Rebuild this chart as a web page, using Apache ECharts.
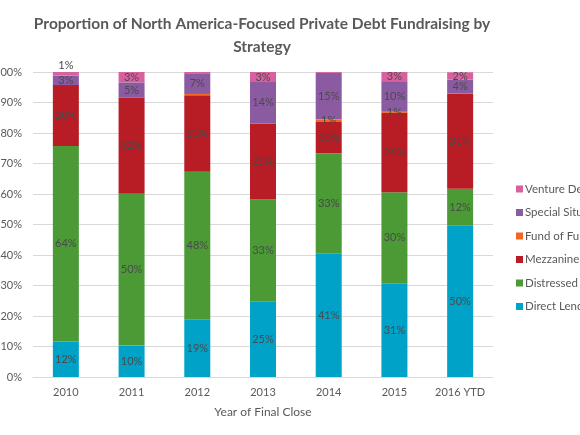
<!DOCTYPE html>
<html>
    <head>
        <meta charset="utf-8">
        <title>Private Debt Fundraising by Strategy</title>
        <script src="https://cdn.jsdelivr.net/npm/echarts@6/dist/echarts.min.js"></script>
        <style>
            html, body { margin: 0; padding: 0; background: #fff; }
            #chart { width: 580px; height: 435px; }
        </style>
    </head>
    <body>
        <div id="chart"></div>
        <script type="text/javascript">
            // categories / ticks
            var years = ["2010", "2011", "2012", "2013", "2014", "2015", "2016 YTD"];
            var yTicks = [0, 10, 20, 30, 40, 50, 60, 70, 80, 90, 100];

            // share of fundraising (%)
            var directLending      = [11.7, 10.3, 18.9, 24.8, 40.6, 30.6, 49.6];
            var distressedDebt     = [64.0, 49.8, 48.4, 33.4, 32.7, 30.0, 12.1];
            var mezzanine          = [20.0, 31.5, 25.1, 24.9, 10.3, 26.0, 31.1];
            var fundOfFunds        = [0.0, 0.0, 0.4, 0.0, 0.8, 0.6, 0.3];
            var specialSituations  = [3.1, 5.0, 6.8, 13.6, 15.3, 9.8, 4.4];
            var ventureDebt        = [1.2, 3.4, 0.4, 3.3, 0.3, 3.0, 2.4];

            var names  = ["Direct Lending", "Distressed Debt", "Mezzanine", "Fund of Funds", "Special Situations", "Venture Debt"];
            var values = [directLending, distressedDebt, mezzanine, fundOfFunds, specialSituations, ventureDebt];
            var colors = ["#00a2c8", "#4b9a36", "#b81c24", "#f26522", "#8a5ba0", "#d9609f"];

            var myChart = echarts.init(document.getElementById('chart'));

            var series = names.map(function (name, i) {
                return {
                    name: name,
                    type: 'bar',
                    stack: 'total',
                    barWidth: 26,
                    itemStyle: { color: colors[i] },
                    label: {
                        show: true,
                        position: 'inside',
                        color: '#4a4a4a',
                        fontSize: 11,
                        fontFamily: 'Lato',
                        formatter: function (p) {
                            var r = Math.round(p.value);
                            return r > 0 ? r + '%' : '';
                        }
                    },
                    data: values[i].map(function (v) {
                        // tiny top segment gets its label above the bar
                        if (i === values.length - 1 && v >= 0.5 && v < 2) {
                            return { value: v, label: { position: 'top', distance: 1 } };
                        }
                        return v;
                    })
                };
            });

            myChart.setOption({
                animation: false,
                textStyle: { fontFamily: 'Lato' },
                title: {
                    text: 'Proportion of North America-Focused Private Debt Fundraising by\nStrategy',
                    left: 257,
                    top: 7,
                    textAlign: 'center',
                    textStyle: {
                        fontFamily: 'Lato',
                        fontSize: 15.5,
                        fontWeight: 'bold',
                        color: '#595959',
                        lineHeight: 23
                    }
                },
                legend: {
                    orient: 'vertical',
                    left: 511,
                    top: 178,
                    itemWidth: 7,
                    itemHeight: 7,
                    itemGap: 11.5,
                    icon: 'rect',
                    data: names.slice().reverse(),
                    textStyle: { color: '#595959', fontSize: 11.5, fontFamily: 'Lato', padding: [0, 0, 0, -3] }
                },
                grid: { left: 33, right: 87, top: 72, bottom: 58, outerBoundsMode: 'none' },
                xAxis: {
                    type: 'category',
                    data: years,
                    name: 'Year of Final Close',
                    nameLocation: 'middle',
                    nameGap: 29,
                    nameTextStyle: { color: '#595959', fontSize: 12 },
                    axisTick: { show: false },
                    axisLine: { lineStyle: { color: '#d9d9d9' } },
                    axisLabel: { color: '#595959', fontSize: 11, margin: 10, interval: 0 }
                },
                yAxis: {
                    type: 'value',
                    min: yTicks[0],
                    max: yTicks[yTicks.length - 1],
                    interval: yTicks[1] - yTicks[0],
                    axisLine: { show: false },
                    axisTick: { show: false },
                    splitLine: { lineStyle: { color: '#d9d9d9' } },
                    axisLabel: { color: '#595959', fontSize: 11, margin: 11, formatter: '{value}%' }
                },
                series: series
            });
        </script>
    </body>
</html>
